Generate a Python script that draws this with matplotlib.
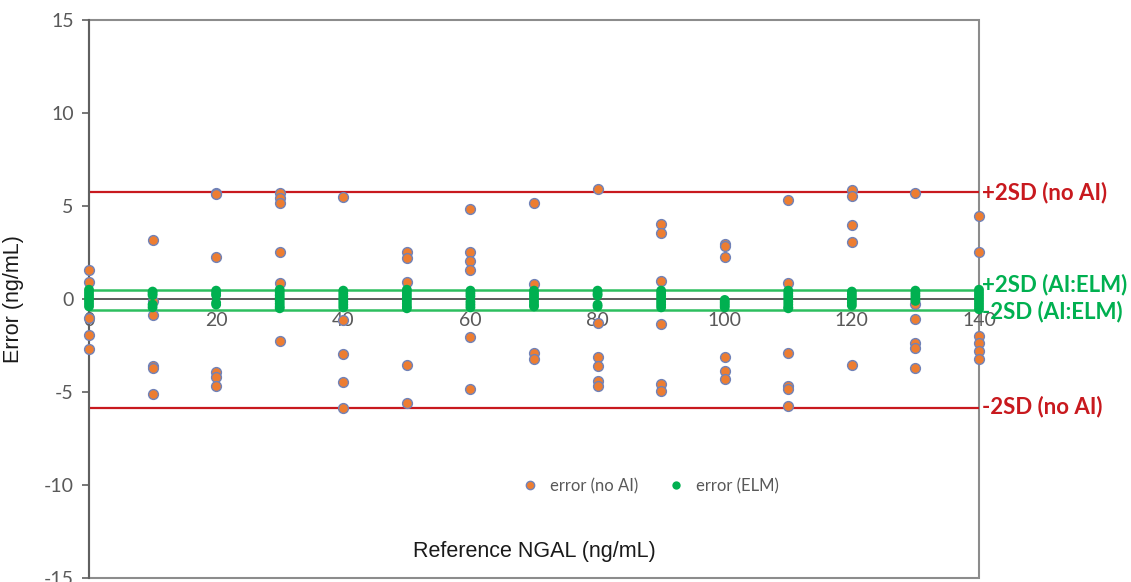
import matplotlib
matplotlib.use("Agg")
import matplotlib.pyplot as plt
from matplotlib.patches import Rectangle
from matplotlib.lines import Line2D

plt.rcParams["axes.unicode_minus"] = False

# Reference NGAL levels (x) and errors
ref_ngal = [0, 10, 20, 30, 40, 50, 60, 70, 80, 90, 100, 110, 120, 130, 140]

err_no_ai = [
    [1.56, 0.90, -1.00, -1.94, -2.70],
    [3.17, -0.10, -0.86, -3.60, -3.73, -5.12],
    [5.72, 5.62, 2.27, -3.90, -4.18, -4.66],
    [5.68, 5.45, 5.14, 2.53, 0.88, -2.24],
    [5.47, -1.13, -2.96, -4.46, -5.84],
    [2.54, 2.22, 0.93, -3.55, -5.61],
    [4.82, 2.54, 2.04, 1.56, -2.06, -4.82],
    [5.14, 0.79, -2.92, -3.24],
    [5.90, -1.31, -3.13, -3.58, -4.41, -4.66],
    [4.03, 3.57, 0.97, -1.33, -4.59, -4.93],
    [2.94, 2.85, 2.24, -3.14, -3.85, -4.30],
    [5.34, 0.88, -2.92, -4.66, -4.86, -5.73],
    [5.86, 5.54, 3.98, 3.08, -3.55],
    [5.72, -0.25, -1.09, -2.38, -2.65, -3.69],
    [4.46, 2.51, -1.99, -2.38, -2.80, -3.24],
]

err_elm = [
    [0.5, 0.35, 0.2, 0.05, -0.1, -0.25, -0.4],
    [0.4, 0.3, 0.2, -0.3, -0.45],
    [0.45, 0.3, 0.2, -0.2, -0.3],
    [0.5, 0.35, 0.2, 0.05, -0.1, -0.25, -0.4, -0.5],
    [0.45, 0.3, 0.15, 0.0, -0.15, -0.3, -0.45],
    [0.5, 0.35, 0.2, 0.05, -0.1, -0.25, -0.4, -0.5],
    [0.45, 0.3, 0.15, -0.15, -0.3, -0.45],
    [0.45, 0.3, 0.15, 0.0, -0.15, -0.3, -0.4],
    [0.45, 0.3, 0.2, -0.3, -0.4],
    [0.45, 0.3, 0.15, 0.0, -0.15, -0.3, -0.45],
    [-0.05, -0.15, -0.25, -0.35, -0.45],
    [0.45, 0.3, 0.15, 0.0, -0.15, -0.3, -0.45, -0.5],
    [0.4, 0.25, 0.1, -0.05, -0.2, -0.35],
    [0.45, 0.3, 0.15, 0.0, -0.1],
    [0.5, 0.35, 0.2, 0.05, -0.1, -0.25, -0.4, -0.55],
]

sd_no_ai = [5.75, -5.88]
sd_elm = [0.5, -0.6]
sd_labels_no_ai = ["+2SD (no AI)", "-2SD (no AI)"]
sd_labels_elm = ["+2SD (AI:ELM)", "-2SD (AI:ELM)"]
label_y_no_ai = [5.72, -5.79]
label_y_elm = [0.8, -0.68]

ORANGE = "#ED7D31"
EDGE = "#7082B8"
GREEN = "#00B050"
RED = "#C8191E"
GRAY = "#595959"


def flatten(xs, groups):
    px, py = [], []
    for x, vals in zip(xs, groups):
        px += [x] * len(vals)
        py += vals
    return px, py


fig = plt.figure(figsize=(11.31, 5.82), dpi=100)
ax = fig.add_axes([0.0787, 0.0069, 0.7869, 0.9587])
ax.set_xlim(0, 140)
ax.set_ylim(-15, 15)

# reference lines
for v in sd_no_ai:
    ax.axhline(v, color=RED, linewidth=1.6, zorder=2)
for v in sd_elm:
    ax.axhline(v, color="#2DBE5F", linewidth=1.8, zorder=2)

ox, oy = flatten(ref_ngal, err_no_ai)
gx, gy = flatten(ref_ngal, err_elm)
ax.scatter(ox, oy, s=50, color=ORANGE, edgecolors=EDGE, linewidths=1.0,
           zorder=3, clip_on=False)
ax.scatter(gx, gy, s=50, color=GREEN, edgecolors="none", zorder=4,
           clip_on=False)

# axes styling, Excel-like
ax.spines["bottom"].set_position(("data", 0))
ax.spines["bottom"].set_color("#404040")
ax.spines["bottom"].set_linewidth(1.2)
ax.spines["bottom"].set_zorder(2.5)
ax.spines["top"].set_visible(False)
ax.spines["right"].set_visible(False)
ax.spines["left"].set_color("#606060")
ax.spines["left"].set_linewidth(1.5)
ax.add_patch(Rectangle((0, 0), 1, 1, transform=ax.transAxes, fill=False,
                       edgecolor="#8C8C8C", linewidth=1.5, zorder=1,
                       clip_on=False))

ax.set_xticks(range(0, 141, 20))
ax.set_yticks(range(-15, 16, 5))
ax.tick_params(axis="x", length=0, pad=9, labelsize=14, labelcolor=GRAY)
ax.tick_params(axis="y", length=5, width=1.2, color="#606060",
               labelsize=14, labelcolor=GRAY, pad=6)
for lab in ax.get_xticklabels() + ax.get_yticklabels():
    lab.set_fontfamily("Lato")

ax.set_ylabel("Error (ng/mL)", fontsize=15.5, family="Liberation Sans",
              color="#1a1a1a", labelpad=14)
ax.text(0.5, 0.048, "Reference NGAL (ng/mL)", transform=ax.transAxes,
        ha="center", va="center", fontsize=15.5, family="Liberation Sans",
        color="#1a1a1a")

# right side labels
trans = ax.get_yaxis_transform()
for y, t in zip(label_y_no_ai, sd_labels_no_ai):
    ax.text(1.003, y, t, transform=trans, ha="left", va="center",
            fontsize=16, fontweight="bold", family="Lato", color=RED,
            clip_on=False)
for y, t in zip(label_y_elm, sd_labels_elm):
    ax.text(1.003, y, t, transform=trans, ha="left", va="center",
            fontsize=16, fontweight="bold", family="Lato", color=GREEN,
            clip_on=False)

handles = [
    Line2D([], [], linestyle="none", marker="o", markersize=6,
           markerfacecolor=ORANGE, markeredgecolor=EDGE, markeredgewidth=1.0),
    Line2D([], [], linestyle="none", marker="o", markersize=6,
           markerfacecolor=GREEN, markeredgecolor="none"),
]
ax.legend(handles, ["error (no AI)", "error (ELM)"], ncol=2, frameon=False,
          loc="center", bbox_to_anchor=(0.626, 0.165), handletextpad=0.2,
          columnspacing=1.3, prop={"family": "Lato", "size": 12},
          labelcolor=GRAY)

fig.savefig("out.png", dpi=100)
